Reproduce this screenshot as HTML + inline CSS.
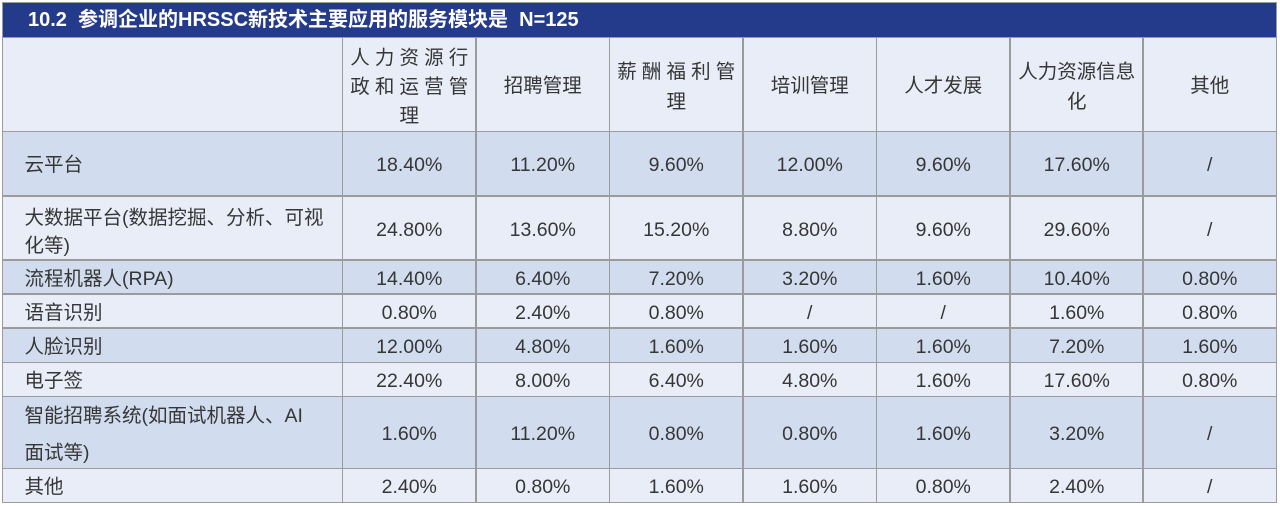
<!DOCTYPE html>
<html>
<head>
<meta charset="utf-8">
<style>
html,body{margin:0;padding:0;background:#ffffff;}
body{width:1280px;height:506px;position:relative;overflow:hidden;font-family:"Liberation Sans","Noto Sans CJK SC",sans-serif;color:#363636;}
.bg{position:absolute;left:2.5px;width:1274px;}
.lt{background:#e8edf7;}
.dk{background:#d1ddee;}
.title{position:absolute;left:2.5px;top:2.5px;width:1274px;height:34.5px;background:#243a8b;color:#fff;font-weight:bold;font-size:20px;line-height:35px;white-space:pre;}
.title span{position:absolute;left:25.5px;top:0;}
.hl{position:absolute;left:2px;width:1275px;height:1.5px;background:#9b9b9b;}
.vl{position:absolute;top:37px;height:466px;width:1.5px;background:#9b9b9b;}
.row{position:absolute;left:0;width:1280px;}
.c{position:absolute;top:0;height:100%;display:flex;align-items:center;justify-content:center;text-align:center;font-size:19.5px;white-space:nowrap;box-sizing:border-box;padding-top:4px;}
.k0{left:2.5px;width:340px;justify-content:flex-start;text-align:left;padding-left:22px;padding-top:0;padding-bottom:2px;}
.k1{left:342.5px;width:133.5px;}
.k2{left:476px;width:133.5px;}
.k3{left:609.5px;width:133.5px;}
.k4{left:743px;width:133.5px;}
.k5{left:876.5px;width:133.5px;}
.k6{left:1010px;width:133.5px;}
.k7{left:1143px;width:133.5px;}
.jl{display:flex;justify-content:space-between;width:118px;}
.hd{display:flex;flex-direction:column;align-items:center;}
.h .c{padding-top:0;}
</style>
</head>
<body>
<!-- row backgrounds -->
<div class="bg lt" style="top:37px;height:94.5px;"></div>
<div class="bg dk" style="top:131.5px;height:64.5px;"></div>
<div class="bg lt" style="top:196px;height:64px;"></div>
<div class="bg dk" style="top:260px;height:34px;"></div>
<div class="bg lt" style="top:294px;height:34px;"></div>
<div class="bg dk" style="top:328px;height:34px;"></div>
<div class="bg lt" style="top:362px;height:34.5px;"></div>
<div class="bg dk" style="top:396.5px;height:72px;"></div>
<div class="bg lt" style="top:468.5px;height:34px;"></div>

<div class="title"><span>10.2  参调企业的HRSSC新技术主要应用的服务模块是  N=125</span></div>

<!-- header row -->
<div class="row h" style="top:37px;height:94.5px;">
  <div class="c k1"><div class="hd" style="line-height:29px;margin-top:6px;">
    <div class="jl"><span>人</span><span>力</span><span>资</span><span>源</span><span>行</span></div>
    <div class="jl"><span>政</span><span>和</span><span>运</span><span>营</span><span>管</span></div>
    <div>理</div></div></div>
  <div class="c k2" style="padding-bottom:2px;">招聘管理</div>
  <div class="c k3"><div class="hd" style="line-height:30px;margin-top:5px;">
    <div class="jl"><span>薪</span><span>酬</span><span>福</span><span>利</span><span>管</span></div>
    <div>理</div></div></div>
  <div class="c k4" style="padding-bottom:2px;">培训管理</div>
  <div class="c k5" style="padding-bottom:2px;">人才发展</div>
  <div class="c k6"><div class="hd" style="line-height:30px;margin-top:5px;"><div>人力资源信息</div><div>化</div></div></div>
  <div class="c k7" style="padding-bottom:2px;">其他</div>
</div>

<div class="row" style="top:131.5px;height:64.5px;">
  <div class="c k0">云平台</div>
  <div class="c k1">18.40%</div><div class="c k2">11.20%</div><div class="c k3">9.60%</div><div class="c k4">12.00%</div><div class="c k5">9.60%</div><div class="c k6">17.60%</div><div class="c k7">/</div>
</div>

<div class="row" style="top:196px;height:64px;">
  <div class="c k0" style="padding-bottom:0;"><div style="line-height:28px;margin-top:7px;">大数据平台(数据挖掘、分析、可视<br>化等)</div></div>
  <div class="c k1">24.80%</div><div class="c k2">13.60%</div><div class="c k3">15.20%</div><div class="c k4">8.80%</div><div class="c k5">9.60%</div><div class="c k6">29.60%</div><div class="c k7">/</div>
</div>

<div class="row" style="top:260px;height:34px;">
  <div class="c k0">流程机器人(RPA)</div>
  <div class="c k1">14.40%</div><div class="c k2">6.40%</div><div class="c k3">7.20%</div><div class="c k4">3.20%</div><div class="c k5">1.60%</div><div class="c k6">10.40%</div><div class="c k7">0.80%</div>
</div>

<div class="row" style="top:294px;height:34px;">
  <div class="c k0">语音识别</div>
  <div class="c k1">0.80%</div><div class="c k2">2.40%</div><div class="c k3">0.80%</div><div class="c k4">/</div><div class="c k5">/</div><div class="c k6">1.60%</div><div class="c k7">0.80%</div>
</div>

<div class="row" style="top:328px;height:34px;">
  <div class="c k0">人脸识别</div>
  <div class="c k1">12.00%</div><div class="c k2">4.80%</div><div class="c k3">1.60%</div><div class="c k4">1.60%</div><div class="c k5">1.60%</div><div class="c k6">7.20%</div><div class="c k7">1.60%</div>
</div>

<div class="row" style="top:362px;height:34.5px;">
  <div class="c k0">电子签</div>
  <div class="c k1">22.40%</div><div class="c k2">8.00%</div><div class="c k3">6.40%</div><div class="c k4">4.80%</div><div class="c k5">1.60%</div><div class="c k6">17.60%</div><div class="c k7">0.80%</div>
</div>

<div class="row" style="top:396.5px;height:72px;">
  <div class="c k0" style="padding-bottom:0;"><div style="line-height:37px;margin-top:4px;">智能招聘系统(如面试机器人、AI<br>面试等)</div></div>
  <div class="c k1">1.60%</div><div class="c k2">11.20%</div><div class="c k3">0.80%</div><div class="c k4">0.80%</div><div class="c k5">1.60%</div><div class="c k6">3.20%</div><div class="c k7">/</div>
</div>

<div class="row" style="top:468.5px;height:34px;">
  <div class="c k0">其他</div>
  <div class="c k1">2.40%</div><div class="c k2">0.80%</div><div class="c k3">1.60%</div><div class="c k4">1.60%</div><div class="c k5">0.80%</div><div class="c k6">2.40%</div><div class="c k7">/</div>
</div>

<!-- horizontal lines -->
<div class="hl" style="top:1.8px;"></div>
<div class="hl" style="top:36.5px;"></div>
<div class="hl" style="top:130.8px;"></div>
<div class="hl" style="top:195.3px;"></div>
<div class="hl" style="top:259.3px;"></div>
<div class="hl" style="top:293.3px;"></div>
<div class="hl" style="top:327.3px;"></div>
<div class="hl" style="top:361.5px;"></div>
<div class="hl" style="top:395.8px;"></div>
<div class="hl" style="top:467.8px;"></div>
<div class="hl" style="top:501.8px;"></div>

<!-- vertical lines -->
<div class="vl" style="left:1.8px;top:2px;height:501px;"></div>
<div class="vl" style="left:341.8px;"></div>
<div class="vl" style="left:475.3px;"></div>
<div class="vl" style="left:608.8px;"></div>
<div class="vl" style="left:742.3px;"></div>
<div class="vl" style="left:875.8px;"></div>
<div class="vl" style="left:1009.3px;"></div>
<div class="vl" style="left:1142.3px;"></div>
<div class="vl" style="left:1275.8px;top:2px;height:501px;"></div>
</body>
</html>
